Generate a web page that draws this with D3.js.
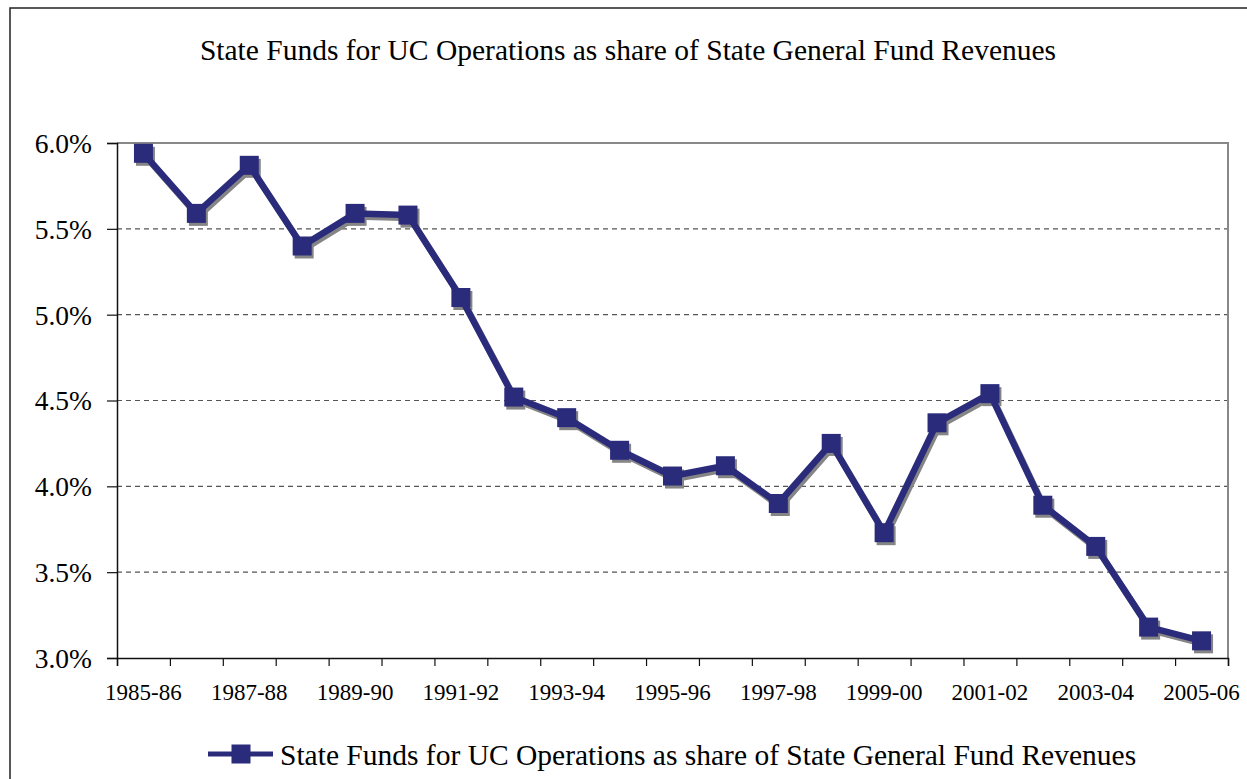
<!DOCTYPE html>
<html>
<head>
<meta charset="utf-8">
<script src="https://cdn.jsdelivr.net/npm/d3@7"></script>
<style>
  body { margin: 0; background: #fff; }
  svg text { font-family: "Liberation Serif", "Times New Roman", serif; fill: #000; }
</style>
</head>
<body>
<script>
const title = "State Funds for UC Operations as share of State General Fund Revenues";

const years = [
  "1985-86", "1986-87", "1987-88", "1988-89", "1989-90", "1990-91", "1991-92",
  "1992-93", "1993-94", "1994-95", "1995-96", "1996-97", "1997-98", "1998-99",
  "1999-00", "2000-01", "2001-02", "2002-03", "2003-04", "2004-05", "2005-06"
];

// percent of general fund revenues
const share = [
  5.94, 5.59, 5.87, 5.40, 5.59, 5.58, 5.10,
  4.52, 4.40, 4.21, 4.06, 4.12, 3.90, 4.25,
  3.73, 4.37, 4.54, 3.89, 3.65, 3.18, 3.10
];

const yTicks = [3.0, 3.5, 4.0, 4.5, 5.0, 5.5, 6.0];

const w = 1247, h = 779;
const plotL = 117, plotR = 1228, plotT = 143, plotB = 658;
const navy = "#2b2b7b";
const shadow = "#858585";

const svg = d3.select("body").append("svg")
  .attr("width", w)
  .attr("height", h);

// outer chart frame (runs off the right and bottom of the picture)
svg.append("rect")
  .attr("x", 10).attr("y", 8)
  .attr("width", w + 20).attr("height", h + 20)
  .attr("fill", "none")
  .attr("stroke", "#222")
  .attr("stroke-width", 1.5);

svg.append("text")
  .attr("x", 628).attr("y", 60)
  .attr("text-anchor", "middle")
  .style("font-size", "29.5px")
  .text(title);

const x = d3.scaleBand().domain(years).range([plotL, plotR]);
const y = d3.scaleLinear().domain([3, 6]).range([plotB, plotT]);

// gridlines
svg.append("g").selectAll("line")
  .data(yTicks.slice(1, -1)).enter()
  .append("line")
  .attr("x1", plotL).attr("x2", plotR)
  .attr("y1", d => y(d)).attr("y2", d => y(d))
  .attr("stroke", "#555")
  .attr("stroke-width", 1.2)
  .attr("stroke-dasharray", "5,4");

// plot border top/right
svg.append("path")
  .attr("d", `M${plotL},${plotT}H${plotR}V${plotB}`)
  .attr("fill", "none")
  .attr("stroke", "#888")
  .attr("stroke-width", 2);

// y axis
const yAxis = d3.axisLeft(y)
  .tickValues(yTicks)
  .tickSize(10)
  .tickPadding(15)
  .tickFormat(d => d.toFixed(1) + "%");
const gy = svg.append("g").attr("transform", `translate(${plotL},0)`).call(yAxis);
gy.select(".domain").attr("stroke", "#111").attr("stroke-width", 1.5);
gy.selectAll(".tick line").attr("stroke", "#111").attr("stroke-width", 1.2);
gy.selectAll(".tick text").style("font-size", "27.5px").attr("dy", "0.34em")
  .style("font-family", "Liberation Serif");

// x axis: ticks at category boundaries, labels on every other category
const xBound = d3.scaleLinear().domain([0, years.length]).range([plotL, plotR]);
const xAxis = d3.axisBottom(xBound)
  .tickValues(d3.range(years.length + 1))
  .tickSize(8)
  .tickFormat("");
const gx = svg.append("g").attr("transform", `translate(0,${plotB})`).call(xAxis);
gx.select(".domain").attr("stroke", "#111").attr("stroke-width", 1.5);
gx.selectAll(".tick line").attr("stroke", "#111").attr("stroke-width", 1.2);

svg.append("g").selectAll("text")
  .data(years.filter((d, i) => i % 2 === 0)).enter()
  .append("text")
  .attr("x", d => x(d) + x.bandwidth() / 2)
  .attr("y", 700)
  .attr("text-anchor", "middle")
  .style("font-size", "23px")
  .text(d => d);

const line = d3.line()
  .x((d, i) => x(years[i]) + x.bandwidth() / 2)
  .y(d => y(d));

const ms = 19;

// drop shadow
const sh = svg.append("g").attr("transform", "translate(2,3)");
sh.append("path").datum(share)
  .attr("d", line)
  .attr("fill", "none")
  .attr("stroke", shadow)
  .attr("stroke-width", 6.5)
  .attr("stroke-linejoin", "round");
sh.selectAll("rect").data(share).enter()
  .append("rect")
  .attr("x", (d, i) => x(years[i]) + x.bandwidth() / 2 - ms / 2)
  .attr("y", d => y(d) - ms / 2)
  .attr("width", ms).attr("height", ms)
  .attr("fill", shadow);

svg.append("path").datum(share)
  .attr("d", line)
  .attr("fill", "none")
  .attr("stroke", navy)
  .attr("stroke-width", 6.5)
  .attr("stroke-linejoin", "round");
svg.append("g").selectAll("rect").data(share).enter()
  .append("rect")
  .attr("x", (d, i) => x(years[i]) + x.bandwidth() / 2 - ms / 2)
  .attr("y", d => y(d) - ms / 2)
  .attr("width", ms).attr("height", ms)
  .attr("fill", navy);

// legend
const lg = svg.append("g").attr("transform", "translate(208,754)");
lg.append("line")
  .attr("x1", 0).attr("x2", 65)
  .attr("stroke", navy).attr("stroke-width", 5);
lg.append("rect")
  .attr("x", 33 - ms / 2).attr("y", -ms / 2)
  .attr("width", ms).attr("height", ms)
  .attr("fill", navy);
lg.append("text")
  .attr("x", 72).attr("y", 11)
  .style("font-size", "29.5px")
  .text(title);
</script>
</body>
</html>
